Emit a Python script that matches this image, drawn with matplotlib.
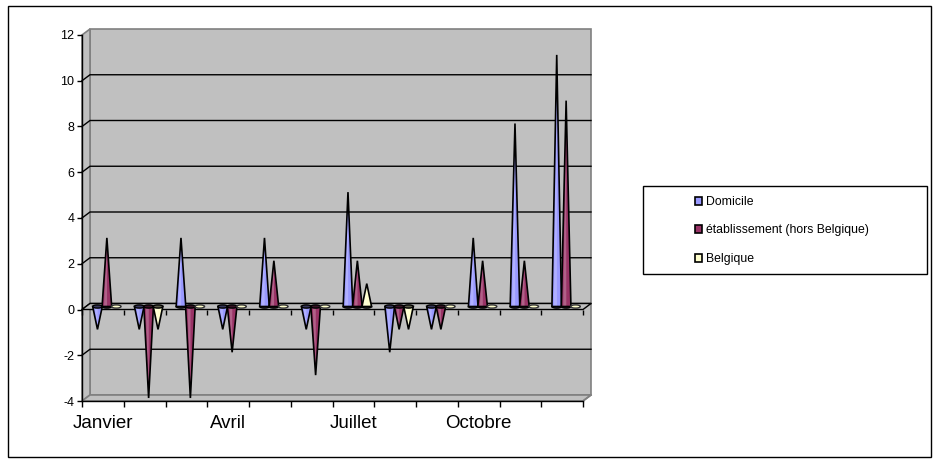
import matplotlib
matplotlib.use('Agg')
import matplotlib.pyplot as plt
from matplotlib.patches import Polygon, Ellipse, Rectangle, Patch
from matplotlib.colors import to_rgb

plt.rcParams['font.family'] = ['Liberation Sans', 'DejaVu Sans']
plt.rcParams['axes.unicode_minus'] = False

# data
mois = ['Janvier', 'Février', 'Mars', 'Avril', 'Mai', 'Juin',
        'Juillet', 'Août', 'Septembre', 'Octobre', 'Novembre', 'Décembre']
domicile = [-1, -1, 3, -1, 3, -1, 5, -2, -1, 3, 8, 11]
etablissement = [3, -4, -4, -2, 2, -3, 2, -1, -1, 2, 2, 9]
belgique = [0, -1, 0, 0, 0, 0, 1, -1, 0, 0, 0, 0]

series = [('Domicile', domicile, '#9999FF'),
          ('établissement (hors Belgique)', etablissement, '#993366'),
          ('Belgique', belgique, '#FFFFCC')]

W, H = 938, 461
fig = plt.figure(figsize=(W / 100, H / 100), dpi=100)
ax = fig.add_axes([82 / W, 1 - 401 / H, 501 / W, 366 / H])
ax.set_xlim(0, 12)
ax.set_ylim(-4, 12)
ax.patch.set_visible(False)

# depth of the fake 3d box, 8px right and 6px up, in data units
dx = 8 * 12 / 501
dy = 6 * 16 / 366
wall = '#C0C0C0'
edge = '#808080'

# back wall, side wall, floor
ax.add_patch(Rectangle((dx, -4 + dy), 12, 16, fc=wall, ec=edge, lw=1.2, zorder=0, clip_on=False))
ax.add_patch(Polygon([(0, -4), (dx, -4 + dy), (dx, 12 + dy), (0, 12)], closed=True,
                     fc=wall, ec=edge, lw=1.2, zorder=0, clip_on=False))
ax.add_patch(Polygon([(0, -4), (12, -4), (12 + dx, -4 + dy), (dx, -4 + dy)], closed=True,
                     fc=wall, ec=edge, lw=1.2, zorder=0, clip_on=False))

# gridlines on side wall + back wall
for v in range(-2, 12, 2):
    ax.plot([0, dx, 12 + dx], [v, v + dy, v + dy], color='black', lw=1, zorder=1, clip_on=False)

# zero plane
ax.add_patch(Polygon([(0, 0), (12, 0), (12 + dx, dy), (dx, dy)], closed=True,
                     fc=wall, ec='black', lw=1, zorder=1, clip_on=False))
ax.vlines(range(13), -0.26, 0, color='black', lw=1, zorder=1, clip_on=False)
ax.plot([12, 12 + dx], [-4, -4 + dy], color=edge, lw=1.2, zorder=1, clip_on=False)

# cones
w = 0.23
eh = 0.14
offsets = [-0.225, 0, 0.225]
for k, (name, vals, col) in enumerate(series):
    light = tuple(c + (1 - c) * 0.45 for c in to_rgb(col))
    dark = tuple(c * 0.35 for c in to_rgb(col))
    for i, v in enumerate(vals):
        cx = i + 0.5 + offsets[k] + dx / 2
        b = dy / 2
        if v == 0:
            ax.add_patch(Ellipse((cx, b), w, eh, fc=col, ec='#333333', lw=1, zorder=4, clip_on=False))
            continue
        if v > 0:
            ax.add_patch(Ellipse((cx, b), w, eh, fc=dark, ec='black', lw=1, zorder=3, clip_on=False))
        tri = [(cx - w / 2, b), (cx + w / 2, b), (cx, b + v)]
        ax.add_patch(Polygon(tri, closed=True, fc=col, ec='none', zorder=3, clip_on=False))
        ax.add_patch(Polygon([(cx - w * 0.3, b), (cx + w * 0.02, b), (cx, b + v)], closed=True,
                             fc=light, ec='none', alpha=0.5, zorder=3, clip_on=False))
        ax.add_patch(Polygon(tri, closed=True, fill=False, ec='black', lw=1.2, zorder=3, clip_on=False))
        if v < 0:
            ax.add_patch(Ellipse((cx, b), w, eh, fc=dark, ec='black', lw=1, zorder=3, clip_on=False))

# axes
for s in ['top', 'right']:
    ax.spines[s].set_visible(False)
for s in ['left', 'bottom']:
    ax.spines[s].set_color('black')
    ax.spines[s].set_linewidth(1)
    ax.spines[s].set_zorder(5)

ax.set_yticks(range(-4, 13, 2))
ax.tick_params(axis='y', length=3.6, width=1, pad=2, labelsize=9, colors='black')
ax.set_xticks(range(13))
ax.set_xticklabels([])
ax.set_xticks([0.5, 3.5, 6.5, 9.5], minor=True)
ax.set_xticklabels([mois[0], mois[3], mois[6], mois[9]], minor=True)
ax.tick_params(axis='x', which='major', length=4.3, width=1, colors='black')
ax.tick_params(axis='x', which='minor', length=0, pad=10, labelsize=13.5)

# legend
fig.add_artist(Rectangle((643 / W, 1 - 274 / H), 284 / W, 88 / H, transform=fig.transFigure,
                         fill=False, ec='black', lw=1))
handles = [Patch(fc=c, ec='black', lw=1.2) for _, _, c in series]
fig.legend(handles, [n for n, _, _ in series], loc='center left',
           bbox_to_anchor=(695 / W, 1 - 230.5 / H), frameon=False, fontsize=8.8,
           handlelength=0.6, handleheight=0.6, handletextpad=0.3, labelspacing=1.35,
           borderpad=0, borderaxespad=0)

# chart border
fig.add_artist(Rectangle((8 / W, 1 - 457 / H), 923 / W, 451 / H, transform=fig.transFigure,
                         fill=False, ec='black', lw=1))

fig.savefig('out.png', dpi=100)
